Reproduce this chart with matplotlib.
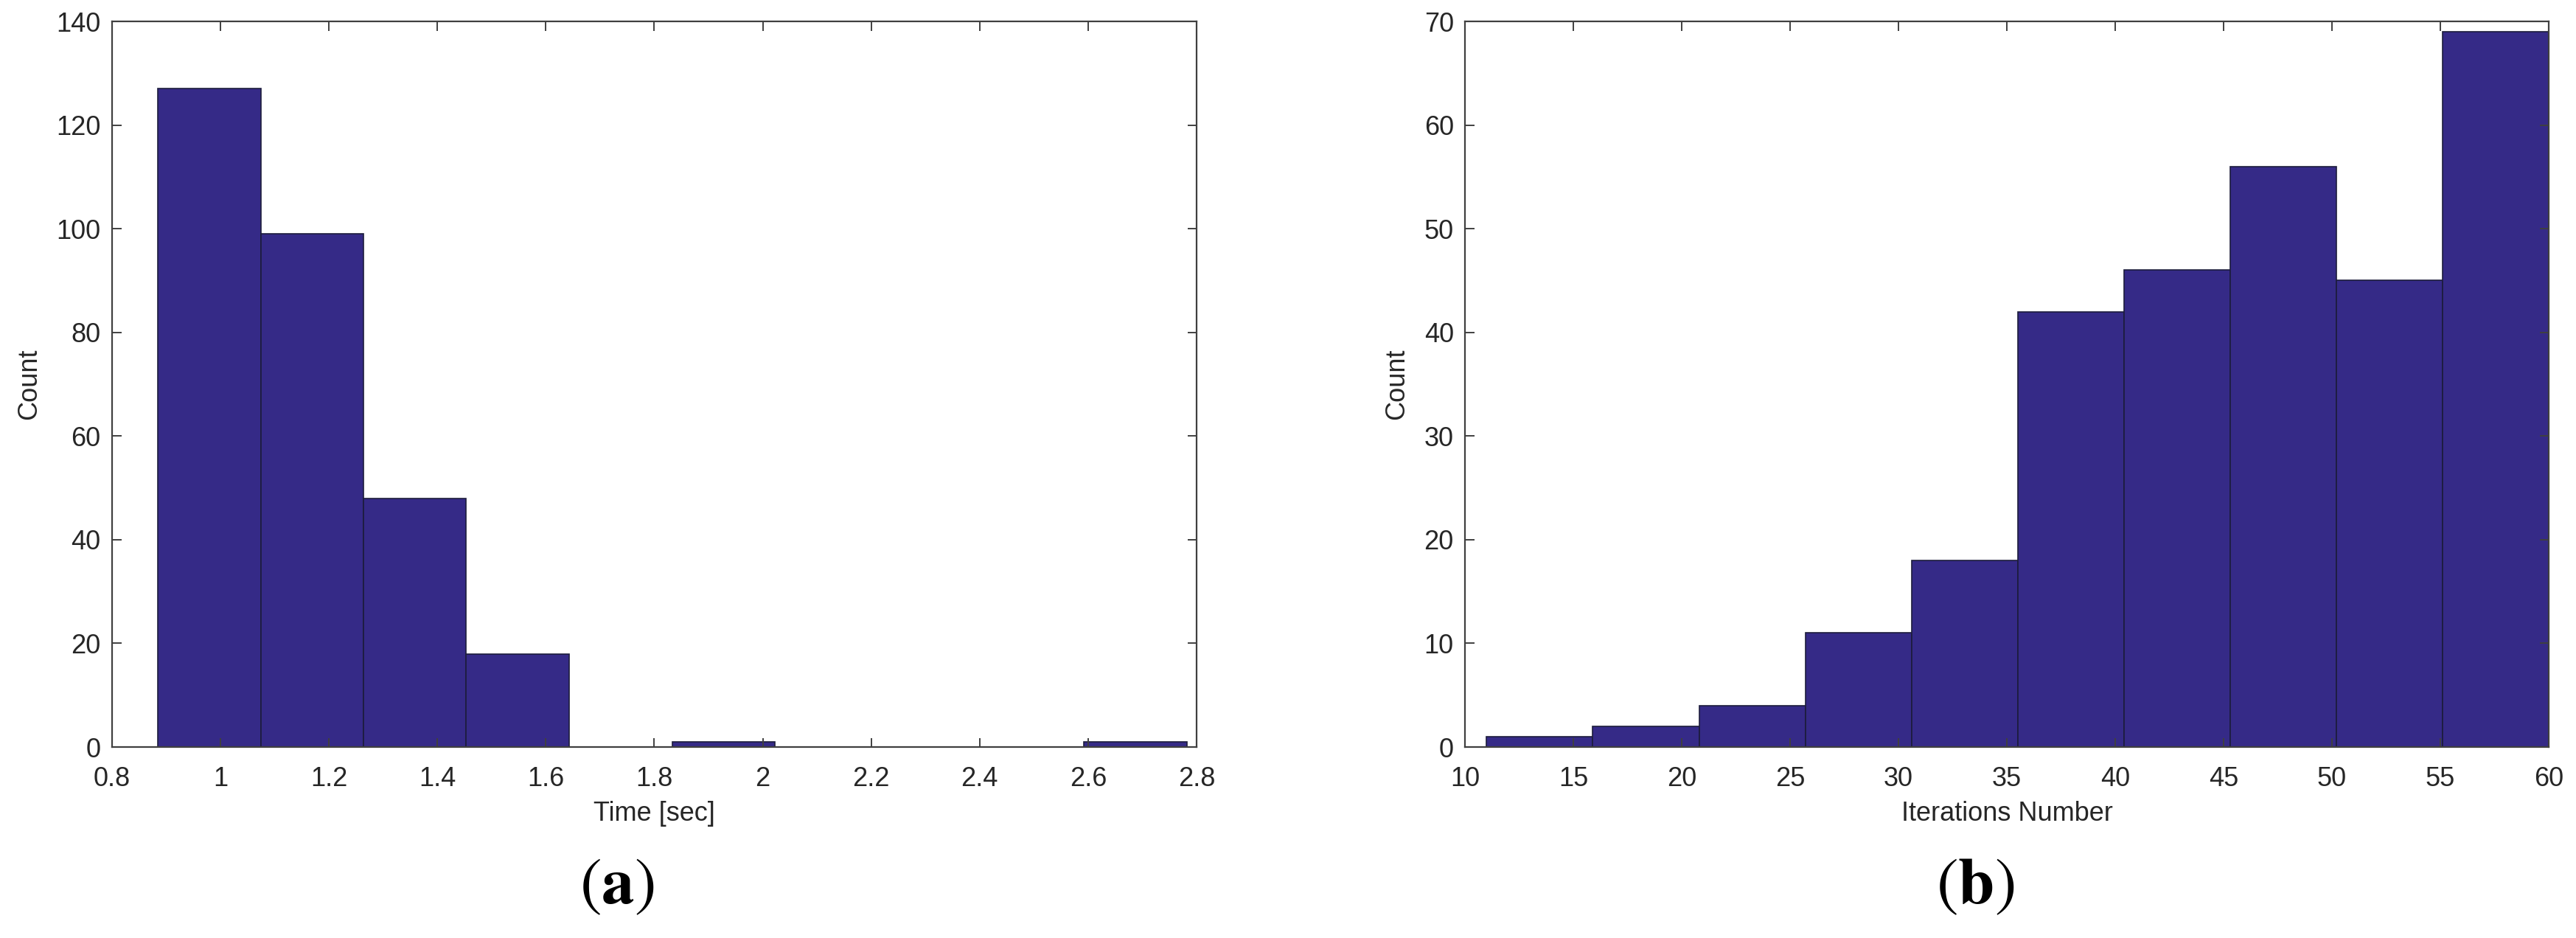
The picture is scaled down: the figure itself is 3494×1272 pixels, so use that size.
import numpy as np
import matplotlib
matplotlib.use('Agg')
import matplotlib.pyplot as plt

# (a) run time histogram
time_edges = [0.884, 1.074, 1.264, 1.453, 1.643, 1.833, 2.023, 2.212, 2.402, 2.592, 2.782]
time_counts = [127, 99, 48, 18, 0, 1, 0, 0, 0, 1]
time_ticks = [0.8, 1, 1.2, 1.4, 1.6, 1.8, 2, 2.2, 2.4, 2.6, 2.8]
time_tick_labels = ['0.8', '1', '1.2', '1.4', '1.6', '1.8', '2', '2.2', '2.4', '2.6', '2.8']

# (b) iterations histogram
iter_edges = [11, 15.9, 20.8, 25.7, 30.6, 35.5, 40.4, 45.3, 50.2, 55.1, 60]
iter_counts = [1, 2, 4, 11, 18, 42, 46, 56, 45, 69]
iter_ticks = [10, 15, 20, 25, 30, 35, 40, 45, 50, 55, 60]

BAR = '#352A87'
EDGE = '#1c1c3c'
TXT = '#262626'

plt.rcParams['font.family'] = ['Liberation Sans', 'DejaVu Sans']
plt.rcParams['mathtext.fontset'] = 'stix'

fig = plt.figure(figsize=(17.47, 6.36), dpi=200)
ax1 = fig.add_axes([0.0435, 0.2036, 0.4210, 0.7736])
ax2 = fig.add_axes([0.5687, 0.2036, 0.4207, 0.7736])


def style(ax):
    for s in ax.spines.values():
        s.set_color('#404040')
        s.set_linewidth(0.8)
    ax.tick_params(direction='in', top=True, right=True, length=4.5, width=0.7,
                   color='#404040', labelsize=13, labelcolor=TXT)
    ax.tick_params(axis='x', pad=9.5)
    ax.tick_params(axis='y', pad=5.5)


e = np.array(time_edges)
ax1.bar(e[:-1], time_counts, width=np.diff(e), align='edge', color=BAR,
        edgecolor=EDGE, linewidth=0.6)
ax1.set_xlim(0.8, 2.8)
ax1.set_ylim(0, 140)
ax1.set_xticks(time_ticks)
ax1.set_xticklabels(time_tick_labels)
ax1.set_yticks(range(0, 141, 20))
ax1.set_xlabel('Time [sec]', fontsize=13, color=TXT, labelpad=4)
ax1.set_ylabel('Count', fontsize=13, color=TXT, labelpad=7)
style(ax1)

e = np.array(iter_edges)
ax2.bar(e[:-1], iter_counts, width=np.diff(e), align='edge', color=BAR,
        edgecolor=EDGE, linewidth=0.6)
ax2.set_xlim(10, 60)
ax2.set_ylim(0, 70)
ax2.set_xticks(iter_ticks)
ax2.set_yticks(range(0, 71, 10))
ax2.set_xlabel('Iterations Number', fontsize=13, color=TXT, labelpad=4)
ax2.set_ylabel('Count', fontsize=13, color=TXT, labelpad=7)
style(ax2)

fig.text(837 / 3494, 1 - 1202 / 1272, r'$\mathrm{(}\mathbf{a}\mathrm{)}$',
         fontsize=32, ha='center', va='center', color='black')
fig.text(2679 / 3494, 1 - 1202 / 1272, r'$\mathrm{(}\mathbf{b}\mathrm{)}$',
         fontsize=32, ha='center', va='center', color='black')

fig.savefig('out.png', dpi=200, facecolor='white')
